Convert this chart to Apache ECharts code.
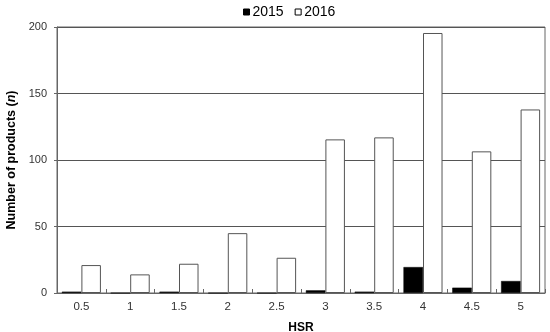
<!DOCTYPE html>
<html>
<head>
<meta charset="utf-8">
<script src="https://cdn.jsdelivr.net/npm/echarts@6/dist/echarts.min.js"></script>
<style>html,body{margin:0;padding:0;background:#fff;}#c{width:550px;height:332px;}</style>
</head>
<body>
<div id="c"></div>
<script>
var categories = ['0.5','1','1.5','2','2.5','3','3.5','4','4.5','5'];
var values2015 = [1, 0, 1, 0, 0, 2, 1, 19.5, 4, 9];
var values2016 = [21, 14, 22, 45, 26.5, 115.5, 117, 195.5, 106.5, 138];
var yTicks = [0, 50, 100, 150, 200];

var chart = echarts.init(document.getElementById('c'), null, {renderer: 'canvas'});
var font = 'Liberation Sans, Arial, sans-serif';
chart.setOption({
  animation: false,
  backgroundColor: '#fff',
  textStyle: {fontFamily: font},
  legend: {
    top: 0, left: 238,
    itemWidth: 6, itemHeight: 6, itemGap: 11,
    icon: 'rect',
    textStyle: {fontSize: 14, color: '#000', fontFamily: font, padding: [0,0,0,-2]},
    data: [
      {name: '2015', itemStyle: {color: '#000', borderColor: '#000', borderWidth: 1}},
      {name: '2016', itemStyle: {color: '#fff', borderColor: '#000', borderWidth: 1}}
    ]
  },
  grid: {left: 57, right: 5, top: 27, bottom: 39, show: true, borderColor: '#666', borderWidth: 1,
         containLabel: false, outerBoundsMode: 'none'},
  xAxis: {
    type: 'category',
    data: categories,
    name: 'HSR', nameLocation: 'middle', nameGap: 29,
    nameTextStyle: {fontWeight: 'bold', fontSize: 12, color: '#000', fontFamily: font},
    axisLine: {lineStyle: {color: '#666', width: 1}},
    axisTick: {show: true, inside: true, length: 4, lineStyle: {color: '#666'}},
    axisLabel: {fontSize: 11.5, color: '#333', margin: 8, fontFamily: font}
  },
  yAxis: {
    type: 'value', min: yTicks[0], max: yTicks[yTicks.length-1], interval: 50,
    name: '{a|Number of products (}{b|n}{a|)}', nameLocation: 'middle', nameGap: 39, nameRotate: 90,
    nameTextStyle: {
      rich: {
        a: {fontWeight: 'bold', fontSize: 12.5, color: '#000', fontFamily: font},
        b: {fontWeight: 'bold', fontStyle: 'italic', fontSize: 12.5, color: '#000', fontFamily: font}
      }
    },
    axisLine: {show: true, lineStyle: {color: '#666', width: 1}},
    axisTick: {show: true, length: 3, lineStyle: {color: '#666'}},
    splitLine: {lineStyle: {color: '#555', width: 1}},
    axisLabel: {fontSize: 11, color: '#333', margin: 10, fontFamily: font}
  },
  series: [
    {name: '2015', type: 'bar', data: values2015, barGap: '0%', barCategoryGap: '20%',
     itemStyle: {color: '#000', borderColor: '#000', borderWidth: 0.5}},
    {name: '2016', type: 'bar', data: values2016, barGap: '0%', barCategoryGap: '20%',
     itemStyle: {color: '#fff', borderColor: '#555', borderWidth: 1}}
  ]
});
</script>
</body>
</html>
